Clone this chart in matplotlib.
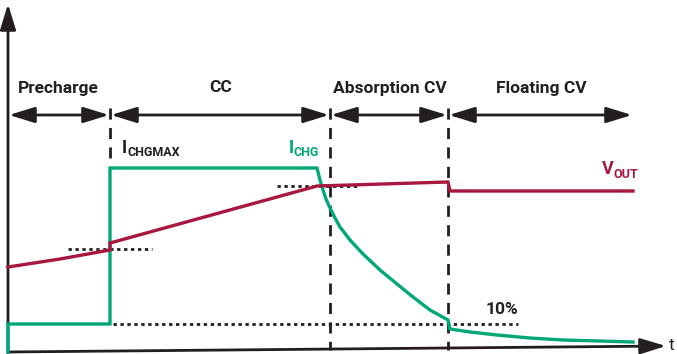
import matplotlib.pyplot as plt
from matplotlib.patches import FancyArrowPatch

# phases (pixel-space chart: x to the right, y downward)
phase_names = ["Precharge", "CC", "Absorption CV", "Floating CV"]
phase_edges = [8, 110, 330, 448, 633]
phase_label_x = [58, 221, 390, 541]

# charge current I_CHG
ichg_t = [8, 8, 110, 110, 317, 318, 320, 323, 326, 330, 335, 340, 350, 363, 380, 397, 413,
          430, 448, 450, 470, 497, 530, 563, 600, 633]
ichg_y = [352, 324, 324, 168, 168, 172, 180, 190, 199, 208, 218, 227, 240, 254, 270, 284, 297,
          310, 320, 329, 332, 335, 338, 340, 341, 342]

# output voltage V_OUT
vout_t = [8, 60, 110, 110, 317, 448, 450, 633]
vout_y = [267, 259, 250, 243, 186, 182, 191, 191]

# dotted reference levels: (x0, x1, y)
ref_lines = [(68, 152, 249), (277, 360, 186), (113, 518, 324)]

GREEN = "#00A878"
RED = "#A8173F"
DARK = "#231F20"
FONT = "Roboto"
HEAD = "-|>,head_length=1.3,head_width=0.4"

fig = plt.figure(figsize=(6.77, 3.54), dpi=100)
ax = fig.add_axes([0, 0, 1, 1])
ax.set_xlim(0, 677)
ax.set_ylim(354, 0)
ax.axis("off")

# axes with arrow heads
ax.add_patch(FancyArrowPatch((8, 353), (8, 4), arrowstyle=HEAD,
                             mutation_scale=12, lw=2, color=DARK, shrinkA=0, shrinkB=0))
ax.add_patch(FancyArrowPatch((8, 352), (666, 346), arrowstyle=HEAD,
                             mutation_scale=12, lw=2, color=DARK, shrinkA=0, shrinkB=0))
ax.text(669, 346, "t", fontsize=12.5, fontfamily=FONT, color=DARK, va="center", ha="left")

# phase boundaries
ax.plot([110, 110], [108, 166], color=DARK, lw=2, ls=(0, (4, 3)))
ax.plot([330, 330], [108, 350], color=DARK, lw=2, ls=(0, (4, 3)))
ax.plot([448, 448], [108, 350], color=DARK, lw=2, ls=(0, (4, 3)))

# phase arrows and labels
for i, name in enumerate(phase_names):
    x0, x1 = phase_edges[i], phase_edges[i + 1]
    ax.add_patch(FancyArrowPatch((x0 + 1, 115), (x1 - 1, 115),
                                 arrowstyle="<|-|>,head_length=1.3,head_width=0.4",
                                 mutation_scale=12, lw=2, color=DARK, shrinkA=0, shrinkB=0))
    ax.text(phase_label_x[i], 88, name, fontsize=12.5, fontweight="bold", fontfamily=FONT,
            color=DARK, ha="center", va="center")

# reference levels
for x0, x1, y in ref_lines:
    ax.plot([x0, x1], [y, y], color=DARK, lw=2, ls=(0, (1.2, 1.3)))

# curves
ax.plot(ichg_t, ichg_y, color=GREEN, lw=2.4, solid_joinstyle="miter")
ax.plot(vout_t, vout_y, color=RED, lw=2.4, solid_joinstyle="miter")

# labels
ax.text(122, 148, "I", fontsize=13, fontweight="bold", fontfamily=FONT, color=DARK, va="center")
ax.text(127, 153, "CHGMAX", fontsize=9, fontweight="bold", fontfamily=FONT, color=DARK, va="center")
ax.text(289, 148, "I", fontsize=13, fontweight="bold", fontfamily=FONT, color=GREEN, va="center")
ax.text(294, 153, "CHG", fontsize=9, fontweight="bold", fontfamily=FONT, color=GREEN, va="center")
ax.text(602, 169, "V", fontsize=13, fontweight="bold", fontfamily=FONT, color=RED, va="center")
ax.text(614, 174, "OUT", fontsize=9, fontweight="bold", fontfamily=FONT, color=RED, va="center")
ax.text(486, 309, "10%", fontsize=12.5, fontweight="bold", fontfamily=FONT, color=DARK, va="center")

fig.savefig("out.png", dpi=100)
